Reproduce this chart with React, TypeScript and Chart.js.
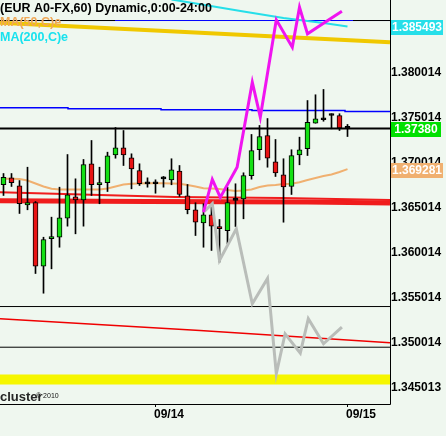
import { useEffect, useRef } from 'react';
import { Chart, registerables } from 'chart.js';
Chart.register(...registerables);

const FONT = '"Liberation Sans", Arial, sans-serif';
const BG = '#eff7ef';
const GREEN = '#14e014';
const RED = '#e81414';

// hourly candles, 09/13 05:00 .. 09/15 00:00
const opens = [1.36754, 1.36831, 1.36743, 1.36531, 1.36557, 1.35849, 1.36154, 1.36171, 1.36383, 1.36620, 1.36587, 1.36987, 1.36754, 1.36776, 1.37087, 1.37165, 1.37054, 1.36913, 1.36764, 1.36765, 1.36820, 1.36809, 1.36905, 1.36631, 1.36476, 1.36331, 1.36420, 1.36290, 1.36243, 1.36581, 1.36598, 1.36854, 1.37143, 1.37301, 1.37009, 1.36865, 1.36735, 1.37087, 1.37154, 1.37438, 1.37476, 1.37524, 1.37524, 1.37380];
const highs = [1.36879, 1.36879, 1.36801, 1.36949, 1.36568, 1.36171, 1.36394, 1.36727, 1.37090, 1.36820, 1.37035, 1.37246, 1.36949, 1.37116, 1.37390, 1.37357, 1.37098, 1.36987, 1.36831, 1.36809, 1.36846, 1.37043, 1.36968, 1.36757, 1.36554, 1.36543, 1.36524, 1.36368, 1.36727, 1.36765, 1.36887, 1.37313, 1.37413, 1.37490, 1.37257, 1.37043, 1.37143, 1.37283, 1.37690, 1.37754, 1.37813, 1.37543, 1.37543, 1.37424];
const lows = [1.36635, 1.36735, 1.36435, 1.36476, 1.35768, 1.35549, 1.35820, 1.36060, 1.36294, 1.36209, 1.36294, 1.36635, 1.36543, 1.36679, 1.37049, 1.36968, 1.36709, 1.36746, 1.36727, 1.36660, 1.36727, 1.36754, 1.36624, 1.36431, 1.36190, 1.36060, 1.36024, 1.35894, 1.36098, 1.36290, 1.36376, 1.36816, 1.37031, 1.36949, 1.36846, 1.36338, 1.36646, 1.36976, 1.37079, 1.37438, 1.37460, 1.37376, 1.37357, 1.37290];
const closes = [1.36838, 1.36776, 1.36543, 1.36557, 1.35849, 1.36146, 1.36179, 1.36387, 1.36643, 1.36587, 1.36979, 1.36754, 1.36779, 1.37076, 1.37165, 1.37087, 1.36931, 1.36765, 1.36764, 1.36765, 1.36820, 1.36920, 1.36646, 1.36476, 1.36338, 1.36420, 1.36294, 1.36265, 1.36557, 1.36581, 1.36857, 1.37135, 1.37290, 1.37049, 1.36887, 1.36731, 1.37079, 1.37143, 1.37449, 1.37487, 1.37476, 1.37524, 1.37387, 1.37380];

const ma50 = [1.36820, 1.36820, 1.36818, 1.36801, 1.36768, 1.36735, 1.36709, 1.36701, 1.36701, 1.36701, 1.36701, 1.36701, 1.36701, 1.36713, 1.36735, 1.36757, 1.36765, 1.36768, 1.36771, 1.36771, 1.36771, 1.36768, 1.36765, 1.36751, 1.36735, 1.36716, 1.36713, 1.36707, 1.36696, 1.36685, 1.36690, 1.36701, 1.36729, 1.36746, 1.36751, 1.36763, 1.36765, 1.36783, 1.36807, 1.36829, 1.36851, 1.36868, 1.36896, 1.36928];
const ma200X = [21, 24.6, 30, 35, 40, 43];
const ma200 = [1.38813, 1.38760, 1.38679, 1.38607, 1.38551, 1.38513];

const magentaX = [25, 26.1, 27.1, 29.2, 31.1, 32.1, 34.1, 36.1, 37, 38, 40, 42.3];
const magentaY = [1.36449, 1.36813, 1.36613, 1.36949, 1.37894, 1.37505, 1.38587, 1.38283, 1.38727, 1.38431, 1.38549, 1.38683];
const grayX = [25, 26.1, 27, 29.1, 31.1, 33, 34.1, 35.2, 37.1, 38.1, 40, 42.3];
const grayY = [1.36449, 1.36543, 1.35913, 1.36265, 1.35431, 1.35713, 1.34654, 1.35098, 1.34883, 1.35265, 1.34987, 1.35171];

const X_MIN = -0.4375;
const X_MAX = 48.3125;
const Y_MIN = 1.34318;
const Y_MAX = 1.38807;

const thinRedX = [X_MIN, 12.06, 21.44, 34.81, X_MAX];
const thinRed = [1.36671, 1.36640, 1.36618, 1.36607, 1.36585];
const thickRedX = [X_MIN, 18, 38, X_MAX];
const thickRed = [1.36577, 1.36568, 1.36563, 1.36551];
const goldX = [X_MIN, 24.56, X_MAX];
const gold = [1.38554, 1.38443, 1.38338];
const lowRedX = [X_MIN, 24.56, X_MAX];
const lowRed = [1.35265, 1.35135, 1.34998];
const blue2X = [X_MIN, 8.06, 19.69, 31.06, 42.69, X_MAX];
const blue2 = [1.37609, 1.37598, 1.37587, 1.37579, 1.37568, 1.37568];
const blue1 = 1.38579;
const black1Segs = [[X_MIN, 13.94], [43.69, X_MAX]];
const lastPrice = 1.3738;
const blackLevels = [1.35401, 1.34949];
const yellowLevel = 1.34591;

const yTickVals = [1.345013, 1.350014, 1.355014, 1.360014, 1.365014, 1.370014, 1.375014, 1.380014, 1.385014];
const yTickLabels = ['1.345013', '1.350014', '1.355014', '1.360014', '1.365014', '1.370014', '1.375014', '1.380014', '1.385014'];
const xTickIdx = [19, 43];
const xTickLabels = ['09/14', '09/15'];

const markerTexts = ['1.385493', '1.37380', '1.369281'];
const markerColors = ['#26dfe9', '#00e000', '#f0b070'];

const pts = (xs: number[], ys: number[]) => xs.map((x, i) => ({ x, y: ys[i] }));
const line = (data: any[], color: string, width: number, extra: any = {}) => ({
  type: 'line', data, borderColor: color, borderWidth: width, pointRadius: 0, tension: 0,
  fill: false, borderCapStyle: 'butt', borderJoinStyle: 'miter', ...extra,
});

export default function App() {
  const ref = useRef<HTMLCanvasElement>(null);
  useEffect(() => {
    document.body.style.margin = '0';
    const canvas = ref.current!;
    const bodyColors = opens.map((o, i) => (closes[i] > o ? GREEN : closes[i] < o ? RED : '#000'));
    const overlay = {
      id: 'overlay',
      beforeDraw(chart: any) {
        const c = chart.ctx;
        c.save();
        c.fillStyle = BG;
        c.fillRect(0, 0, chart.width, chart.height);
        c.restore();
      },
      afterDraw(chart: any) {
        const c = chart.ctx;
        const a = chart.chartArea;
        const ys = chart.scales.y;
        const xs = chart.scales.x;
        c.save();
        c.strokeStyle = '#000';
        c.lineWidth = 1;
        c.beginPath();
        c.moveTo(a.right + 0.5, 0);
        c.lineTo(a.right + 0.5, a.bottom + 0.5);
        c.lineTo(0, a.bottom + 0.5);
        c.stroke();
        // y tick labels
        c.font = 'bold 12px ' + FONT;
        c.fillStyle = '#000';
        c.textAlign = 'left';
        c.textBaseline = 'middle';
        yTickVals.forEach((v, i) => c.fillText(yTickLabels[i], a.right + 1, ys.getPixelForValue(v) + 0.5));
        // marker boxes
        const mVals = [ma200[ma200.length - 1], lastPrice, ma50[ma50.length - 1]];
        const mW = [52, 50, 52];
        mVals.forEach((v, i) => {
          const cy = ys.getPixelForValue(v) + 1;
          const top = Math.round(cy - 7.5);
          c.fillStyle = markerColors[i];
          c.fillRect(a.right + 1, top, mW[i], 15);
          c.fillStyle = '#fff';
          c.textAlign = 'center';
          c.fillText(markerTexts[i], a.right + 1 + mW[i] / 2, top + 8);
        });
        // x ticks
        c.textAlign = 'left';
        c.textBaseline = 'alphabetic';
        c.fillStyle = '#000';
        xTickIdx.forEach((v, i) => {
          const px = Math.floor(xs.getPixelForValue(v)) + 0.5;
          c.beginPath();
          c.moveTo(px, a.bottom);
          c.lineTo(px, a.bottom + 3);
          c.stroke();
          c.fillText(xTickLabels[i], px - 1.5, 418);
        });
        // title & legend
        c.font = 'bold 12.5px ' + FONT;
        c.fillStyle = '#000';
        c.fillText('(EUR A0-FX,60) Dynamic,0:00-24:00', 0, 11.5);
        c.fillStyle = '#f0a858';
        c.fillText('MA(50,C)e', 0, 25.5);
        c.fillStyle = '#18e2ee';
        c.fillText('MA(200,C)e', 0, 41);
        // bottom left credit
        c.font = 'bold 13px ' + FONT;
        c.fillStyle = '#262626';
        c.fillText('cluster', 0, 401);
        c.font = '7px ' + FONT;
        c.fillStyle = '#111';
        c.fillText('© 2010', 36, 398);
        c.restore();
      },
    };

    const datasets: any[] = [
      line(pts(magentaX, magentaY), '#f014f0', 3),
      line(pts(grayX, grayY), '#b9bdb9', 3),
      {
        type: 'bar',
        data: opens.map((o, i) => ({ x: i, y: [o, closes[i]] })),
        backgroundColor: bodyColors,
        borderColor: '#000',
        borderWidth: 1,
        borderSkipped: false,
        barThickness: 5,
        maxBarThickness: 5,
        minBarLength: 2,
        grouped: false,
      },
      {
        type: 'bar',
        data: lows.map((l, i) => ({ x: i, y: [l, highs[i]] })),
        backgroundColor: '#000',
        borderWidth: 0,
        barThickness: 1,
        maxBarThickness: 1,
        grouped: false,
      },
      line(ma50.map((v, i) => ({ x: i, y: v })), '#f0b070', 2),
      line(pts(ma200X, ma200), '#26dfe9', 2),
      line([{ x: X_MIN, y: lastPrice }, { x: X_MAX, y: lastPrice }], '#000', 2),
      line(pts(thinRedX, thinRed), '#f01c1c', 2),
      line(pts(thickRedX, thickRed), '#f01c1c', 5),
      ...black1Segs.map((s) => line([{ x: s[0], y: blue1 }, { x: s[1], y: blue1 }], '#000', 1)),
      line([{ x: X_MIN, y: blue1 }, { x: X_MAX, y: blue1 }], '#0000ff', 1),
      line(pts(blue2X, blue2), '#0000ff', 1.5, { stepped: true }),
      line(pts(goldX, gold), '#f0c800', 4),
      line(pts(lowRedX, lowRed), '#f00000', 1.5),
      ...blackLevels.map((v) => line([{ x: X_MIN, y: v }, { x: X_MAX, y: v }], '#000', 1)),
      line([{ x: X_MIN, y: yellowLevel }, { x: X_MAX, y: yellowLevel }], '#f6f600', 10),
    ];

    const chart = new Chart(canvas, {
      type: 'line',
      data: { datasets },
      options: {
        animation: false,
        responsive: false,
        events: [],
        layout: { padding: { left: 0, top: 0, right: 56, bottom: 32 } },
        plugins: { legend: { display: false }, tooltip: { enabled: false } },
        scales: {
          x: { type: 'linear', display: false, min: X_MIN, max: X_MAX, offset: false },
          y: { type: 'linear', display: false, min: Y_MIN, max: Y_MAX },
        },
      },
      plugins: [overlay],
    } as any);
    return () => chart.destroy();
  }, []);
  return <canvas ref={ref} width={446} height={436} style={{ display: 'block', width: 446, height: 436 }} />;
}
